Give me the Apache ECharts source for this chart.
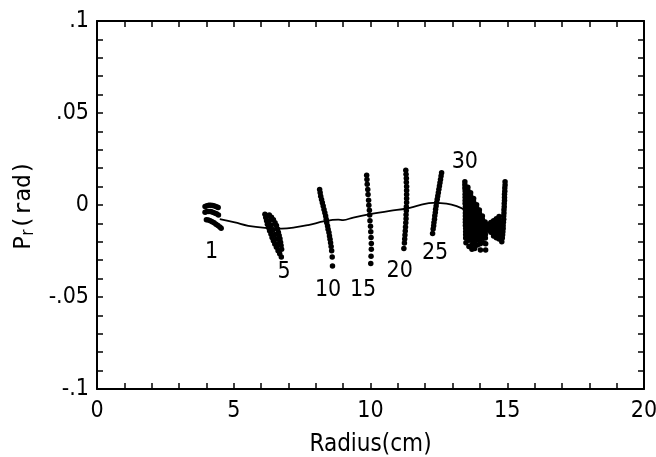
<!DOCTYPE html>
<html>
<head>
<meta charset="utf-8">
<script src="https://cdn.jsdelivr.net/npm/echarts@6/dist/echarts.min.js"></script>
<style>html,body{margin:0;padding:0;background:#fff}#c{width:656px;height:457px}</style>
</head>
<body>
<div id="c"></div>
<script>
// ---- data ----
const xTickValues = [0, 5, 10, 15, 20];
const xTickLabels = ['0', '5', '10', '15', '20'];
const yTickValues = [-0.1, -0.05, 0, 0.05, 0.1];
const yTickLabels = ['-.1', '-.05', '0', '.05', '.1'];

const turn1 = [
  [3.95,-0.0008],[4.02,-0.0004],[4.09,-0.0002],[4.16,-0.0002],[4.23,-0.0003],[4.30,-0.0006],[4.37,-0.0010],[4.43,-0.0014],
  [3.95,-0.0040],[4.02,-0.0036],[4.09,-0.0035],[4.16,-0.0036],[4.23,-0.0039],[4.30,-0.0043],[4.37,-0.0048],[4.44,-0.0054],
  [4.00,-0.0080],[4.07,-0.0082],[4.14,-0.0086],[4.21,-0.0091],[4.28,-0.0097],[4.35,-0.0104],[4.42,-0.0112],[4.49,-0.0120],[4.54,-0.0127]
];
const turn5 = [
  [6.14,-0.0050],[6.17,-0.0068],[6.20,-0.0086],[6.23,-0.0104],[6.27,-0.0122],[6.31,-0.0140],[6.36,-0.0158],[6.40,-0.0176],[6.45,-0.0194],[6.50,-0.0212],[6.56,-0.0230],[6.62,-0.0248],[6.68,-0.0265],[6.74,-0.0282],
  [6.30,-0.0055],[6.38,-0.0066],[6.45,-0.0080],[6.51,-0.0096],[6.56,-0.0112],[6.60,-0.0130],[6.63,-0.0148],[6.66,-0.0166],[6.69,-0.0184],[6.71,-0.0202],[6.73,-0.0220],[6.75,-0.0240],
  [6.22,-0.0060],[6.30,-0.0085],[6.37,-0.0110],[6.44,-0.0135],[6.50,-0.0160],[6.56,-0.0185],[6.62,-0.0210]
];
const turn10 = [
  [8.14,0.0084],[8.16,0.0066],[8.18,0.0048],[8.21,0.0030],[8.24,0.0012],[8.27,-0.0006],[8.30,-0.0024],[8.33,-0.0042],[8.36,-0.0060],[8.38,-0.0078],[8.40,-0.0096],
  [8.43,-0.0114],[8.45,-0.0132],[8.48,-0.0150],[8.50,-0.0168],[8.52,-0.0186],[8.54,-0.0205],[8.56,-0.0225],[8.58,-0.0248],[8.60,-0.0282],[8.61,-0.0332]
];
const turn15 = [
  [9.86,0.0162],[9.87,0.0139],[9.88,0.0113],[9.90,0.0084],[9.91,0.0057],[9.93,0.0026],[9.94,-0.0001],[9.96,-0.0028],[9.97,-0.0055],
  [9.98,-0.0086],[10.00,-0.0115],[10.01,-0.0146],[10.02,-0.0176],[10.03,-0.0209],[10.03,-0.0241],[10.02,-0.0278],[10.01,-0.0318]
];
const turn20 = [
  [11.29,0.0189],[11.30,0.0167],[11.31,0.0145],[11.31,0.0123],[11.32,0.0101],[11.32,0.0079],[11.32,0.0057],[11.32,0.0035],[11.32,0.0013],[11.31,-0.0009],
  [11.31,-0.0031],[11.30,-0.0053],[11.30,-0.0075],[11.29,-0.0097],[11.28,-0.0119],[11.27,-0.0141],[11.26,-0.0163],[11.25,-0.0185],[11.24,-0.0207],[11.22,-0.0236]
];
const turn25 = [
  [12.60,0.0175],[12.58,0.0157],[12.56,0.0139],[12.54,0.0121],[12.52,0.0103],[12.50,0.0085],[12.48,0.0067],[12.46,0.0049],[12.44,0.0031],[12.42,0.0013],
  [12.40,-0.0005],[12.38,-0.0023],[12.37,-0.0041],[12.35,-0.0059],[12.34,-0.0077],[12.32,-0.0095],[12.31,-0.0113],[12.29,-0.0131],[12.27,-0.0155]
];
const turn30 = [
  [13.45,0.0126],[13.45,0.0110],[13.45,0.0093],[13.46,0.0076],[13.46,0.0059],[13.46,0.0042],[13.46,0.0025],[13.46,0.0008],[13.47,-0.0009],[13.47,-0.0026],
  [13.47,-0.0043],[13.47,-0.0060],[13.47,-0.0077],[13.47,-0.0094],[13.47,-0.0111],[13.48,-0.0128],[13.48,-0.0145],[13.48,-0.0162],[13.48,-0.0180],[13.49,-0.0205],
  [13.56,0.0097],[13.56,0.0080],[13.57,0.0063],[13.57,0.0046],[13.57,0.0029],[13.57,0.0012],[13.58,-0.0005],[13.58,-0.0022],[13.58,-0.0039],[13.58,-0.0056],
  [13.58,-0.0073],[13.59,-0.0090],[13.59,-0.0107],[13.59,-0.0124],[13.59,-0.0141],[13.60,-0.0158],[13.60,-0.0175],[13.60,-0.0192],[13.60,-0.0225],
  [13.66,0.0067],[13.66,0.0050],[13.67,0.0033],[13.67,0.0016],[13.67,-0.0001],[13.67,-0.0018],[13.68,-0.0035],[13.68,-0.0052],[13.68,-0.0069],[13.68,-0.0086],
  [13.69,-0.0103],[13.69,-0.0120],[13.69,-0.0137],[13.70,-0.0154],[13.70,-0.0171],[13.70,-0.0190],[13.71,-0.0215],[13.71,-0.0240],
  [13.77,0.0035],[13.77,0.0018],[13.78,0.0001],[13.78,-0.0016],[13.78,-0.0033],[13.78,-0.0050],[13.79,-0.0067],[13.79,-0.0084],[13.79,-0.0101],[13.79,-0.0118],
  [13.80,-0.0135],[13.80,-0.0152],[13.80,-0.0169],[13.80,-0.0186],[13.81,-0.0210],[13.81,-0.0236],
  [13.88,0.0002],[13.88,-0.0015],[13.89,-0.0032],[13.89,-0.0049],[13.89,-0.0066],[13.89,-0.0083],[13.90,-0.0100],[13.90,-0.0117],[13.90,-0.0134],[13.90,-0.0151],
  [13.91,-0.0168],[13.91,-0.0190],[13.91,-0.0218],
  [13.98,-0.0027],[13.98,-0.0044],[13.99,-0.0061],[13.99,-0.0078],[13.99,-0.0095],[13.99,-0.0112],[14.00,-0.0129],[14.00,-0.0146],[14.00,-0.0163],[14.01,-0.0185],
  [14.01,-0.0210],[14.02,-0.0245],
  [14.09,-0.0060],[14.09,-0.0077],[14.10,-0.0094],[14.10,-0.0111],[14.10,-0.0128],[14.10,-0.0145],[14.11,-0.0162],[14.11,-0.0180],[14.12,-0.0205],
  [14.19,-0.0092],[14.19,-0.0109],[14.20,-0.0126],[14.20,-0.0143],[14.20,-0.0160],[14.20,-0.0180],[14.21,-0.0210],[14.21,-0.0245],
  [14.30,-0.0105],[14.30,-0.0120],[14.30,-0.0135],
  [14.40,-0.0095],[14.40,-0.0112],[14.40,-0.0130],[14.40,-0.0148],
  [14.50,-0.0085],[14.50,-0.0102],[14.50,-0.0119],[14.50,-0.0136],[14.50,-0.0153],[14.50,-0.0168],
  [14.60,-0.0075],[14.60,-0.0092],[14.60,-0.0109],[14.60,-0.0126],[14.60,-0.0143],[14.60,-0.0160],[14.60,-0.0178],
  [14.70,-0.0062],[14.70,-0.0080],[14.70,-0.0098],[14.70,-0.0116],[14.70,-0.0134],[14.70,-0.0152],[14.70,-0.0170],[14.70,-0.0185],
  [14.92,0.0126],[14.92,0.0109],[14.91,0.0092],[14.91,0.0075],[14.90,0.0058],[14.90,0.0041],[14.90,0.0024],[14.89,0.0008],[14.89,-0.0009],[14.88,-0.0026],
  [14.88,-0.0043],[14.87,-0.0060],[14.87,-0.0077],[14.86,-0.0094],[14.85,-0.0111],[14.85,-0.0128],[14.84,-0.0145],[14.83,-0.0162],[14.82,-0.0180],[14.80,-0.0200]
];
const centroidLine = [
  [4.49,-0.0077],[5.04,-0.0095],[5.53,-0.0113],[6.14,-0.0124],[6.75,-0.0128],[7.23,-0.0122],[7.72,-0.0109],[8.33,-0.0088],[8.82,-0.0080],
  [9.00,-0.0082],[9.37,-0.0068],[9.98,-0.0050],[10.71,-0.0032],[11.32,-0.0019],[11.80,-0.0001],[12.29,0.0012],[12.78,0.0008],[13.15,-0.0006],
  [13.52,-0.0032],[13.90,-0.0070],[14.30,-0.0110]
];
const turnNames = ['1', '5', '10', '15', '20', '25', '30'];
const turnLabelX = [4.19, 6.84, 8.45, 9.73, 11.07, 12.36, 13.45];
const turnLabelY = [-0.0254, -0.0363, -0.0462, -0.0462, -0.0358, -0.026, 0.0234];

// ---- chart ----
const numFont = "'DejaVu Sans Condensed', 'DejaVu Sans', sans-serif";
const monoFont = "'DejaVu Sans Mono', monospace";
const chart = echarts.init(document.getElementById('c'), null, {renderer: 'canvas'});

function xFmt(v) {
  const i = xTickValues.findIndex(t => Math.abs(t - v) < 1e-6);
  return i >= 0 ? xTickLabels[i] : '';
}
function yFmt(v) {
  const i = yTickValues.findIndex(t => Math.abs(t - v) < 1e-6);
  return i >= 0 ? yTickLabels[i] : '';
}
const axisLine = {show: true, onZero: false, lineStyle: {color: '#000', width: 2}};
const axisTick = {show: true, inside: true, length: 6, lineStyle: {color: '#000', width: 1.5}};

const groups = [turn1, turn5, turn10, turn15, turn20, turn25, turn30];
const dotSeries = groups.map(g => ({
  type: 'scatter', data: g, symbol: 'circle', symbolSize: 5.5,
  itemStyle: {color: '#000', opacity: 1}, silent: true, z: 3
}));

chart.setOption({
  animation: false,
  backgroundColor: '#fff',
  grid: {left: 97, right: 12, top: 21, bottom: 68, containLabel: false, outerBoundsMode: 'none'},
  xAxis: [
    {type: 'value', min: 0, max: 20, interval: 1, position: 'bottom',
     axisLine, axisTick, splitLine: {show: false},
     axisLabel: {formatter: xFmt, color: '#000', fontFamily: numFont, fontSize: 23, margin: 11},
     name: 'Radius(cm)', nameLocation: 'middle', nameGap: 44,
     nameTextStyle: {color: '#000', fontFamily: numFont, fontSize: 24}},
    {type: 'value', min: 0, max: 20, interval: 1, position: 'top',
     axisLine, axisTick, splitLine: {show: false}, axisLabel: {show: false}}
  ],
  yAxis: [
    {type: 'value', min: -0.1, max: 0.1, interval: 0.01, position: 'left',
     axisLine, axisTick, splitLine: {show: false},
     axisLabel: {formatter: yFmt, color: '#000', fontFamily: numFont, fontSize: 23, margin: 8},
     name: '{p|P}{s|r}{p|(rad)}', nameLocation: 'middle', nameGap: 60, nameRotate: 90,
     nameTextStyle: {color: '#000', rich: {
       p: {fontFamily: monoFont, fontSize: 23, color: '#000'},
       s: {fontFamily: numFont, fontSize: 17, color: '#000', padding: [9, 0, 0, 0]}
     }}},
    {type: 'value', min: -0.1, max: 0.1, interval: 0.01, position: 'right',
     axisLine, axisTick, splitLine: {show: false}, axisLabel: {show: false}}
  ],
  series: [
    {type: 'line', data: centroidLine, smooth: 0.4, showSymbol: false, silent: true,
     lineStyle: {color: '#000', width: 1.8}, z: 2},
    ...dotSeries,
    {type: 'scatter', symbolSize: 1, itemStyle: {color: 'rgba(0,0,0,0)', opacity: 1}, silent: true, z: 4,
     data: turnNames.map((n, i) => ({name: n, value: [turnLabelX[i], turnLabelY[i]]})),
     label: {show: true, position: 'inside', formatter: p => p.name, color: '#000',
             fontFamily: numFont, fontSize: 23}}
  ]
});
</script>
</body>
</html>
